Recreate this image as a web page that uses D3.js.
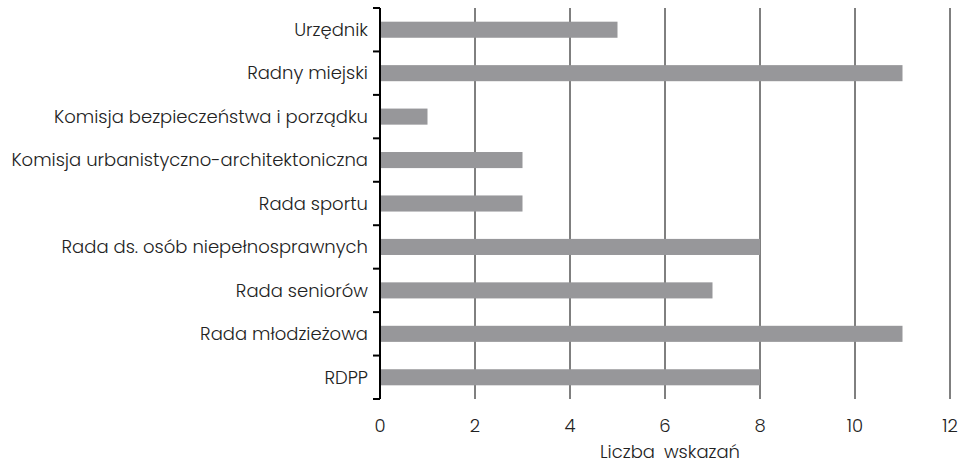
<!DOCTYPE html>
<html>
<head>
<meta charset="utf-8">
<script src="https://cdn.jsdelivr.net/npm/d3@7/dist/d3.min.js"></script>
<style>
  body { margin: 0; background: #fff; }
  svg { display: block; font-family: "Poppins", "Lato", "Noto Sans", sans-serif; font-weight: 300; }
</style>
</head>
<body>
<svg id="chart" width="960" height="468"></svg>
<script>
// Number of mentions for each role
const categories = [
  "Urzędnik",
  "Radny miejski",
  "Komisja bezpieczeństwa i porządku",
  "Komisja urbanistyczno-architektoniczna",
  "Rada sportu",
  "Rada ds. osób niepełnosprawnych",
  "Rada seniorów",
  "Rada młodzieżowa",
  "RDPP"
];
const values = [5, 11, 1, 3, 3, 8, 7, 11, 8];
const xTicks = [0, 2, 4, 6, 8, 10, 12];
const xTitle = "Liczba wskazań";

const svg = d3.select("#chart");
const margin = { top: 8, left: 380 };
const plotRight = 950;
const plotBottom = 399;
const fontSize = 18;

const x = d3.scaleLinear().domain([0, 12]).range([margin.left, plotRight]);
const y = d3.scaleBand().domain(categories).range([margin.top, plotBottom]).paddingInner(0.63).paddingOuter(0.315);
const yBounds = d3.scaleBand().domain(categories).range([margin.top, plotBottom]);

// vertical grid lines
svg.append("g")
  .selectAll("line")
  .data(xTicks.filter(d => d > 0))
  .join("line")
  .attr("x1", d => x(d)).attr("x2", d => x(d))
  .attr("y1", margin.top).attr("y2", plotBottom)
  .attr("stroke", "#000").attr("stroke-width", 1);

// bars
svg.append("g")
  .selectAll("rect")
  .data(categories)
  .join("rect")
  .attr("x", x(0))
  .attr("y", d => y(d))
  .attr("width", (d, i) => x(values[i]) - x(0))
  .attr("height", y.bandwidth())
  .attr("fill", "#97979a");

// category axis with ticks on band boundaries
const yAxis = svg.append("g");
yAxis.append("line")
  .attr("x1", x(0)).attr("x2", x(0))
  .attr("y1", margin.top).attr("y2", plotBottom)
  .attr("stroke", "#000").attr("stroke-width", 2);
const bounds = categories.map(c => yBounds(c)).concat([plotBottom]);
yAxis.selectAll("line.tick")
  .data(bounds)
  .join("line")
  .attr("class", "tick")
  .attr("x1", x(0) - 7).attr("x2", x(0))
  .attr("y1", d => d).attr("y2", d => d)
  .attr("stroke", "#000").attr("stroke-width", 2);
yAxis.selectAll("text")
  .data(categories)
  .join("text")
  .attr("x", x(0) - 12)
  .attr("y", d => yBounds(d) + yBounds.bandwidth() / 2)
  .attr("dy", "0.35em")
  .attr("text-anchor", "end")
  .attr("font-size", fontSize)
  .attr("fill", "#222")
  .text(d => d);

// value axis labels
svg.append("g")
  .selectAll("text")
  .data(xTicks)
  .join("text")
  .attr("x", d => x(d))
  .attr("y", 432)
  .attr("text-anchor", "middle")
  .attr("font-size", fontSize)
  .attr("fill", "#222")
  .text(d => d);

svg.append("text")
  .attr("x", x(6) + 5)
  .attr("y", 458)
  .attr("text-anchor", "middle")
  .attr("font-size", fontSize)
  .attr("fill", "#222")
  .attr("word-spacing", 4)
  .text(xTitle);
</script>
</body>
</html>
